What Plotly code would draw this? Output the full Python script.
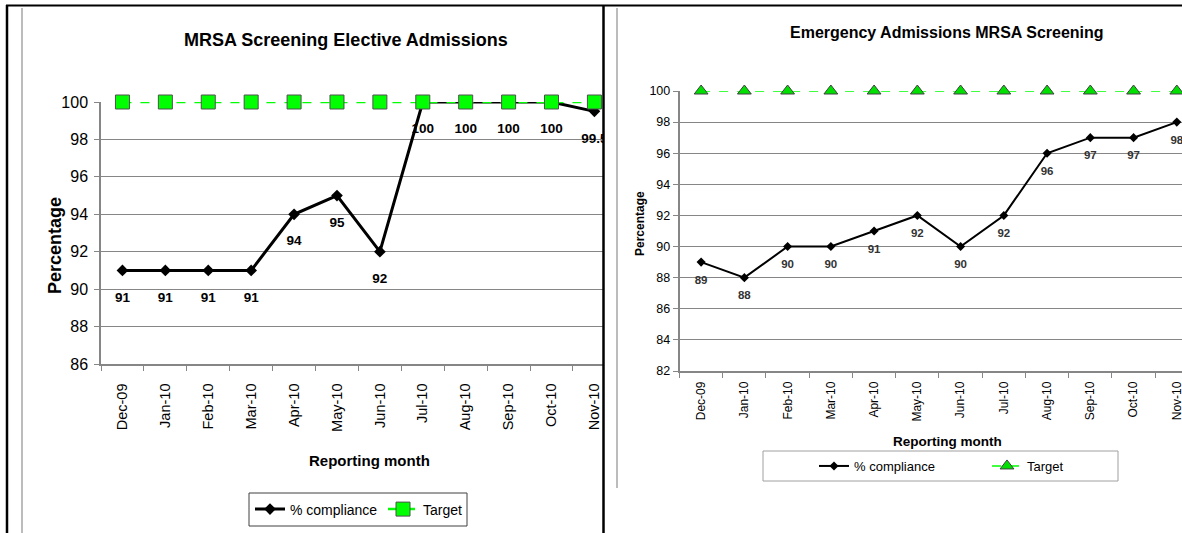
import plotly.graph_objects as go

W, H = 1182, 533

months = ["Dec-09", "Jan-10", "Feb-10", "Mar-10", "Apr-10", "May-10",
          "Jun-10", "Jul-10", "Aug-10", "Sep-10", "Oct-10", "Nov-10"]

elective_compliance = [91, 91, 91, 91, 94, 95, 92, 100, 100, 100, 100, 99.5]
elective_target = [100, 100, 100, 100, 100, 100, 100, 100, 100, 100, 100, 100]
elective_yticks = [86, 88, 90, 92, 94, 96, 98, 100]

emergency_compliance = [89, 88, 90, 90, 91, 92, 90, 92, 96, 97, 97, 98]
emergency_target = [100, 100, 100, 100, 100, 100, 100, 100, 100, 100, 100, 100]
emergency_yticks = [82, 84, 86, 88, 90, 92, 94, 96, 98, 100]

ARIAL = "Liberation Sans, Arial, sans-serif"
GRID = "#868686"


def px(x):
    return x / W


def py(y):
    return 1 - y / H


def fmt(v):
    return f"{v:g}"


fig = go.Figure()

# ---------- Left chart: elective ----------
fig.add_trace(go.Scatter(
    x=months, y=elective_compliance, mode="lines+markers", name="% compliance",
    line=dict(color="black", width=3),
    marker=dict(symbol="diamond", size=9, color="black"),
    xaxis="x", yaxis="y", legend="legend", cliponaxis=False, hoverinfo="skip"))
fig.add_trace(go.Scatter(
    x=months, y=elective_target, mode="lines+markers", name="Target",
    line=dict(color="#00FF00", width=2.5, dash="dash"),
    marker=dict(symbol="square", size=14, color="#00FF00",
                line=dict(color="#505050", width=1)),
    xaxis="x", yaxis="y", legend="legend", cliponaxis=False, hoverinfo="skip"))
fig.add_trace(go.Scatter(
    x=months, y=elective_compliance, mode="markers+text",
    text=[fmt(v) for v in elective_compliance], textposition="bottom center",
    textfont=dict(family=ARIAL, size=13.5, color="black", weight="bold"),
    marker=dict(size=32, color="rgba(0,0,0,0)"),
    xaxis="x", yaxis="y", showlegend=False, cliponaxis=True, hoverinfo="skip"))

# ---------- Right chart: emergency ----------
fig.add_trace(go.Scatter(
    x=months, y=emergency_compliance, mode="lines+markers", name="% compliance",
    line=dict(color="black", width=2),
    marker=dict(symbol="diamond", size=7, color="black"),
    xaxis="x2", yaxis="y2", legend="legend2", cliponaxis=False, hoverinfo="skip"))
fig.add_trace(go.Scatter(
    x=months, y=emergency_target, mode="lines+markers", name="Target",
    line=dict(color="#00FF00", width=1.5, dash="dash"),
    marker=dict(symbol="triangle-up", size=12, color="#00E000",
                line=dict(color="#404040", width=1)),
    xaxis="x2", yaxis="y2", legend="legend2", cliponaxis=False, hoverinfo="skip"))
fig.add_trace(go.Scatter(
    x=months, y=emergency_compliance, mode="markers+text",
    text=[fmt(v) for v in emergency_compliance], textposition="bottom center",
    textfont=dict(family=ARIAL, size=11.5, color="#333333", weight="bold"),
    marker=dict(size=19, color="rgba(0,0,0,0)"),
    xaxis="x2", yaxis="y2", showlegend=False, cliponaxis=True, hoverinfo="skip"))

xcommon = dict(type="category", categoryorder="array", categoryarray=months,
               tickson="boundaries", ticks="outside", ticklen=5, tickcolor=GRID,
               showline=True, linecolor=GRID, linewidth=1.5, showgrid=False,
               tickangle=-90, zeroline=False, fixedrange=True, automargin=False)
ycommon = dict(ticks="outside", ticklen=5, tickcolor=GRID, showline=True,
               linecolor=GRID, linewidth=1.5, showgrid=True, gridcolor=GRID,
               gridwidth=1.2, zeroline=False, fixedrange=True, automargin=False)

fig.update_layout(
    width=W, height=H, margin=dict(l=0, r=0, t=0, b=0, pad=0, autoexpand=False),
    paper_bgcolor="white", plot_bgcolor="white",
    xaxis=dict(xcommon, domain=[px(101), px(603)], range=[-0.5, 11.2], anchor="y",
               ticklabelstandoff=12,
               tickfont=dict(family=ARIAL, size=14.5, color="black")),
    yaxis=dict(ycommon, domain=[py(364), py(102)], range=[86, 100], anchor="x",
               tickvals=elective_yticks, ticklabelstandoff=3,
               tickfont=dict(family=ARIAL, size=16, color="black")),
    xaxis2=dict(xcommon, domain=[px(679.5), 1.0], range=[-0.5, 11.12], anchor="y2",
                ticklabelstandoff=4,
                tickfont=dict(family=ARIAL, size=12, color="black")),
    yaxis2=dict(ycommon, domain=[py(371), py(91)], range=[82, 100], anchor="x2",
                tickvals=emergency_yticks,
                tickfont=dict(family=ARIAL, size=12.5, color="black")),
    showlegend=True,
    legend=dict(orientation="h", x=px(250), y=py(509.5), xanchor="left", yanchor="middle",
                xref="paper", yref="paper", bgcolor="rgba(0,0,0,0)", borderwidth=0,
                font=dict(family=ARIAL, size=14, color="black"),
                entrywidth=88, entrywidthmode="pixels", traceorder="normal"),
    legend2=dict(orientation="h", x=px(814), y=py(466), xanchor="left", yanchor="middle",
                 xref="paper", yref="paper", bgcolor="rgba(0,0,0,0)", borderwidth=0,
                 font=dict(family=ARIAL, size=13, color="black"),
                 entrywidth=128, entrywidthmode="pixels", traceorder="normal"),
)

annotations = [
    dict(text="MRSA Screening Elective Admissions", x=px(346), y=py(40),
         font=dict(family=ARIAL, size=18, color="black", weight="bold")),
    dict(text="Percentage", x=px(55), y=py(246), textangle=-90,
         font=dict(family=ARIAL, size=18, color="black", weight="bold")),
    dict(text="Reporting month", x=px(369), y=py(460),
         font=dict(family=ARIAL, size=15, color="black", weight="bold")),
    dict(text="Emergency Admissions MRSA Screening", x=px(947), y=py(32),
         font=dict(family=ARIAL, size=16, color="black", weight="bold")),
    dict(text="Percentage", x=px(640), y=py(224), textangle=-90,
         font=dict(family=ARIAL, size=12, color="black", weight="bold")),
    dict(text="Reporting month", x=px(947), y=py(441),
         font=dict(family=ARIAL, size=13.5, color="black", weight="bold")),
]
for a in annotations:
    a.update(xref="paper", yref="paper", showarrow=False, xanchor="center", yanchor="middle")
fig.update_layout(annotations=annotations)

shapes = [
    # legend boxes
    dict(type="rect", x0=px(249), x1=px(467), y0=py(526), y1=py(493),
         line=dict(color="#404040", width=1)),
    dict(type="rect", x0=px(763), x1=px(1118), y0=py(481), y1=py(451),
         line=dict(color="#A0A0A0", width=1)),
    # chart area borders (gray)
    dict(type="line", x0=px(22), x1=px(22), y0=py(8), y1=py(533),
         line=dict(color="#A6A6A6", width=1.5)),
    dict(type="line", x0=px(617), x1=px(617), y0=py(8), y1=py(488),
         line=dict(color="#A6A6A6", width=1.5)),
    # table cell borders (black)
    dict(type="line", x0=px(6), x1=1.0, y0=py(5.5), y1=py(5.5),
         line=dict(color="black", width=2)),
    dict(type="line", x0=px(7), x1=px(7), y0=py(5), y1=py(533),
         line=dict(color="black", width=2.5)),
    dict(type="line", x0=px(603.5), x1=px(603.5), y0=py(5), y1=py(533),
         line=dict(color="black", width=2.5)),
]
for s in shapes:
    s.update(xref="paper", yref="paper", layer="above")
fig.update_layout(shapes=shapes)

fig.write_html("out.html")
